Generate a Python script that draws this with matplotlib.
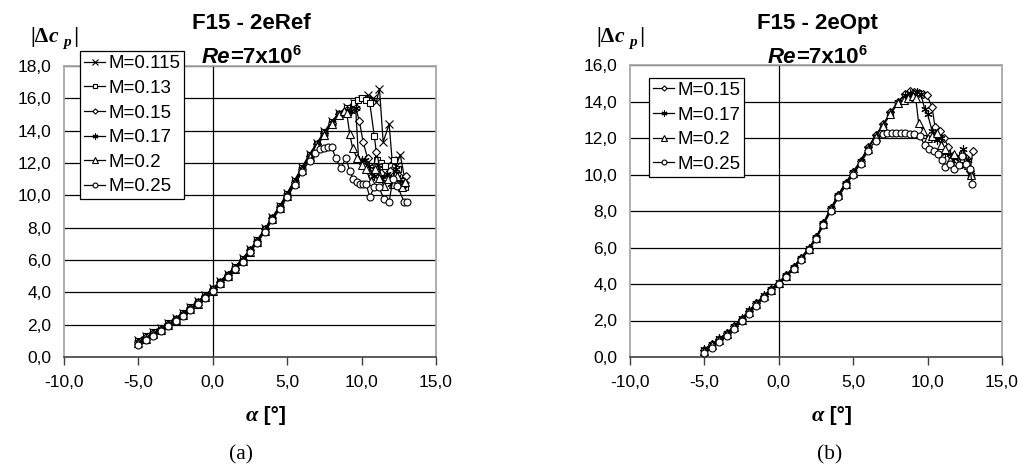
import matplotlib
matplotlib.use("Agg")
import matplotlib.pyplot as plt
from matplotlib.ticker import FuncFormatter, MultipleLocator

# ---------------- data: panel (a) F15 - 2eRef ----------------
ref_labels = ["M=0.115", "M=0.13", "M=0.15", "M=0.17", "M=0.2", "M=0.25"]

ref_a_0115 = [-5.0, -4.5, -4.0, -3.5, -3.0, -2.5, -2.0, -1.5, -1.0, -0.5, 0.0, 0.5, 1.0, 1.5, 2.0, 2.5, 3.0, 3.5,
              4.0, 4.5, 5.0, 5.5, 6.0, 6.5, 7.0, 7.5, 8.0, 8.5, 9.0, 9.5, 10.0, 10.4, 10.75, 11.0, 11.2, 11.45,
              11.85, 12.05, 12.3, 12.6, 12.9]
ref_v_0115 = [1.05, 1.3, 1.55, 1.8, 2.1, 2.4, 2.75, 3.1, 3.45, 3.85, 4.25, 4.7, 5.15, 5.6, 6.1, 6.65, 7.25, 7.95,
              8.65, 9.35, 10.15, 10.95, 11.75, 12.55, 13.25, 13.95, 14.6, 15.1, 15.45, 15.7, 15.95, 16.2, 16.0,
              15.8, 16.6, 13.3, 14.4, 12.2, 11.8, 12.5, 11.0]

ref_a_013 = [-5.0, -4.5, -4.0, -3.5, -3.0, -2.5, -2.0, -1.5, -1.0, -0.5, 0.0, 0.5, 1.0, 1.5, 2.0, 2.5, 3.0, 3.5,
             4.0, 4.5, 5.0, 5.5, 6.0, 6.5, 7.0, 7.5, 8.0, 8.5, 9.0, 9.5, 9.75, 10.0, 10.3, 10.55, 10.85, 11.05,
             11.3, 11.6, 11.9, 12.2, 12.45, 12.75, 12.95]
ref_v_013 = [1.0, 1.28, 1.52, 1.78, 2.08, 2.38, 2.72, 3.08, 3.42, 3.82, 4.22, 4.66, 5.1, 5.56, 6.05, 6.62, 7.22, 7.92,
             8.62, 9.32, 10.1, 10.9, 11.7, 12.5, 13.2, 13.9, 14.55, 15.05, 15.4, 15.7, 15.9, 16.0, 15.9, 15.7, 13.7,
             12.2, 12.0, 11.8, 11.3, 12.2, 11.6, 10.9, 10.5]

ref_a_015 = [-5.0, -4.5, -4.0, -3.5, -3.0, -2.5, -2.0, -1.5, -1.0, -0.5, 0.0, 0.5, 1.0, 1.5, 2.0, 2.5, 3.0, 3.5,
             4.0, 4.5, 5.0, 5.5, 6.0, 6.5, 7.0, 7.5, 8.0, 8.5, 9.0, 9.3, 9.6, 9.85, 10.1, 10.4, 10.7, 11.0, 11.3,
             11.6, 11.9, 12.2, 12.5, 12.8, 13.0]
ref_v_015 = [0.95, 1.22, 1.48, 1.74, 2.04, 2.34, 2.68, 3.04, 3.38, 3.78, 4.18, 4.62, 5.06, 5.52, 6.0, 6.6, 7.2, 7.9,
             8.6, 9.3, 10.05, 10.85, 11.65, 12.45, 13.15, 13.85, 14.5, 15.0, 15.3, 15.3, 15.4, 14.6, 13.3, 12.3,
             11.2, 12.7, 11.4, 11.0, 11.5, 10.8, 11.2, 10.6, 11.2]

ref_a_017 = [-5.0, -4.5, -4.0, -3.5, -3.0, -2.5, -2.0, -1.5, -1.0, -0.5, 0.0, 0.5, 1.0, 1.5, 2.0, 2.5, 3.0, 3.5,
             4.0, 4.5, 5.0, 5.5, 6.0, 6.5, 7.0, 7.5, 8.0, 8.5, 9.0, 9.3, 9.6, 9.8, 10.0, 10.2, 10.5, 10.8, 11.1,
             11.4, 11.7, 12.0, 12.3, 12.6, 12.9]
ref_v_017 = [0.9, 1.18, 1.44, 1.7, 2.0, 2.3, 2.64, 3.0, 3.34, 3.74, 4.14, 4.58, 5.02, 5.48, 5.96, 6.56, 7.16, 7.86,
             8.56, 9.26, 10.0, 10.8, 11.6, 12.4, 13.1, 13.8, 14.45, 14.95, 15.3, 15.2, 15.4, 12.2, 12.2, 12.2,
             11.8, 11.2, 11.9, 11.0, 11.3, 10.7, 11.6, 11.0, 10.7]

ref_a_02 = [-5.0, -4.5, -4.0, -3.5, -3.0, -2.5, -2.0, -1.5, -1.0, -0.5, 0.0, 0.5, 1.0, 1.5, 2.0, 2.5, 3.0, 3.5,
            4.0, 4.5, 5.0, 5.5, 6.0, 6.5, 7.0, 7.5, 8.0, 8.5, 8.8, 9.0, 9.2, 9.4, 9.7, 10.0, 10.3, 10.6, 10.9,
            11.2, 11.5, 11.8, 12.1, 12.4, 12.7, 12.95]
ref_v_02 = [0.85, 1.12, 1.4, 1.66, 1.96, 2.26, 2.6, 2.96, 3.3, 3.7, 4.1, 4.55, 5.0, 5.45, 5.92, 6.52, 7.12, 7.82,
            8.52, 9.22, 9.95, 10.75, 11.55, 12.35, 13.05, 13.75, 14.4, 14.95, 15.2, 15.1, 13.8, 12.9, 12.3, 11.9,
            11.6, 10.9, 11.6, 11.1, 10.6, 11.0, 10.7, 11.2, 10.5, 10.8]

ref_a_025 = [-5.0, -4.5, -4.0, -3.5, -3.0, -2.5, -2.0, -1.5, -1.0, -0.5, 0.0, 0.5, 1.0, 1.5, 2.0, 2.5, 3.0, 3.5,
             4.0, 4.5, 5.0, 5.5, 6.0, 6.5, 6.85, 7.2, 7.5, 7.75, 8.0, 8.25, 8.6, 8.95, 9.2, 9.45, 9.7, 9.9, 10.1,
             10.3, 10.55, 10.85, 11.15, 11.5, 11.85, 12.1, 12.4, 12.85, 13.05]
ref_v_025 = [0.75, 1.05, 1.32, 1.6, 1.9, 2.2, 2.55, 2.92, 3.26, 3.66, 4.06, 4.5, 4.96, 5.42, 5.9, 6.48, 7.08, 7.76,
             8.46, 9.16, 9.88, 10.66, 11.45, 12.15, 12.6, 12.85, 12.95, 13.0, 13.0, 12.3, 11.7, 12.3, 11.5, 11.0,
             10.8, 10.7, 10.7, 10.7, 9.9, 10.5, 10.5, 9.8, 9.6, 11.0, 10.6, 9.6, 9.6]

# ---------------- data: panel (b) F15 - 2eOpt ----------------
opt_labels = ["M=0.15", "M=0.17", "M=0.2", "M=0.25"]

opt_a_015 = [-5.0, -4.5, -4.0, -3.5, -3.0, -2.5, -2.0, -1.5, -1.0, -0.5, 0.0, 0.5, 1.0, 1.5, 2.0, 2.5, 3.0, 3.5,
             4.0, 4.5, 5.0, 5.5, 6.0, 6.5, 7.0, 7.5, 8.0, 8.5, 8.8, 9.1, 9.4, 9.7, 9.95, 10.3, 10.5, 10.8, 11.1,
             11.4, 11.7, 12.0, 12.3, 12.6, 12.85, 13.05]
opt_v_015 = [0.4, 0.7, 1.0, 1.3, 1.68, 2.1, 2.52, 2.96, 3.36, 3.72, 4.08, 4.48, 4.94, 5.44, 5.94, 6.55, 7.35, 8.15,
             8.9, 9.55, 10.15, 10.75, 11.5, 12.15, 12.75, 13.4, 14.0, 14.4, 14.55, 14.5, 14.45, 14.4, 14.35, 13.7,
             12.6, 12.4, 12.0, 11.5, 10.9, 10.8, 10.6, 10.9, 10.2, 11.3]

opt_a_017 = [-5.0, -4.5, -4.0, -3.5, -3.0, -2.5, -2.0, -1.5, -1.0, -0.5, 0.0, 0.5, 1.0, 1.5, 2.0, 2.5, 3.0, 3.5,
             4.0, 4.5, 5.0, 5.5, 6.0, 6.5, 7.0, 7.5, 8.0, 8.5, 8.8, 9.05, 9.3, 9.55, 9.8, 10.0, 10.3, 10.6, 10.9,
             11.2, 11.5, 11.8, 12.1, 12.4, 12.7, 12.95]
opt_v_017 = [0.45, 0.72, 1.02, 1.32, 1.7, 2.12, 2.55, 2.98, 3.38, 3.74, 4.1, 4.5, 4.95, 5.45, 5.95, 6.55, 7.35, 8.15,
             8.9, 9.55, 10.15, 10.75, 11.45, 12.1, 12.7, 13.35, 13.95, 14.35, 14.45, 14.4, 14.5, 14.4, 13.6, 13.3,
             12.4, 11.9, 12.0, 11.2, 11.1, 10.9, 11.0, 11.4, 10.8, 10.0]

opt_a_02 = [-5.0, -4.5, -4.0, -3.5, -3.0, -2.5, -2.0, -1.5, -1.0, -0.5, 0.0, 0.5, 1.0, 1.5, 2.0, 2.5, 3.0, 3.5,
            4.0, 4.5, 5.0, 5.5, 6.0, 6.5, 7.0, 7.5, 8.0, 8.4, 8.7, 9.0, 9.2, 9.4, 9.7, 10.0, 10.3, 10.6, 10.9,
            11.2, 11.5, 11.8, 12.1, 12.4, 12.7, 12.9]
opt_v_02 = [0.35, 0.65, 0.95, 1.25, 1.62, 2.05, 2.48, 2.92, 3.32, 3.68, 4.04, 4.44, 4.9, 5.4, 5.9, 6.5, 7.3, 8.1,
            8.85, 9.5, 10.1, 10.7, 11.42, 12.05, 12.65, 13.3, 13.9, 14.1, 14.2, 14.3, 14.2, 12.8, 12.4, 12.0,
            12.1, 12.3, 11.6, 11.4, 10.8, 11.1, 10.7, 10.9, 10.5, 10.0]

opt_a_025 = [-5.0, -4.5, -4.0, -3.5, -3.0, -2.5, -2.0, -1.5, -1.0, -0.5, 0.0, 0.5, 1.0, 1.5, 2.0, 2.5, 3.0, 3.5,
             4.0, 4.5, 5.0, 5.5, 6.0, 6.5, 7.0, 7.3, 7.6, 7.9, 8.2, 8.5, 8.8, 9.1, 9.5, 9.8, 10.1, 10.4, 10.7,
             11.0, 11.2, 11.5, 11.8, 12.1, 12.3, 12.6, 12.85, 13.0]
opt_v_025 = [0.2, 0.5, 0.82, 1.14, 1.52, 1.95, 2.38, 2.82, 3.22, 3.6, 3.98, 4.38, 4.84, 5.34, 5.84, 6.44, 7.22,
             8.0, 8.75, 9.4, 10.0, 10.6, 11.3, 11.85, 12.2, 12.3, 12.3, 12.3, 12.25, 12.25, 12.2, 12.2, 12.1, 11.6,
             11.4, 11.3, 11.1, 10.8, 10.4, 10.6, 10.3, 10.5, 11.0, 10.6, 10.3, 9.5]

ref_series = [(ref_a_0115, ref_v_0115), (ref_a_013, ref_v_013), (ref_a_015, ref_v_015),
              (ref_a_017, ref_v_017), (ref_a_02, ref_v_02), (ref_a_025, ref_v_025)]
opt_series = [(opt_a_015, opt_v_015), (opt_a_017, opt_v_017), (opt_a_02, opt_v_02), (opt_a_025, opt_v_025)]

marker_for = {"M=0.115": ("x", 5.5), "M=0.13": ("s", 4.6), "M=0.15": ("D", 3.8),
              "M=0.17": ((6, 2, 0), 6.0), "M=0.2": ("^", 5.2), "M=0.25": ("o", 5.0)}

# ---------------- figure ----------------
W, H = 1022, 465
SANS = "Liberation Sans"
SERIF = "Liberation Serif"
plt.rcParams["font.family"] = [SANS, "DejaVu Sans"]

fig = plt.figure(figsize=(W / 100, H / 100), dpi=100)
fig.patch.set_facecolor("white")


def px_axes(left, right, top, bottom):
    return fig.add_axes([left / W, 1 - bottom / H, (right - left) / W, (bottom - top) / H])


def comma_fmt(v, pos):
    return f"{v:.1f}".replace(".", ",")


def style_axes(ax, ymax):
    ax.set_xlim(-10, 15)
    ax.set_ylim(0, ymax)
    ax.xaxis.set_major_locator(MultipleLocator(5))
    ax.yaxis.set_major_locator(MultipleLocator(2))
    ax.xaxis.set_major_formatter(FuncFormatter(comma_fmt))
    ax.yaxis.set_major_formatter(FuncFormatter(comma_fmt))
    for yv in range(2, int(ymax) + 1, 2):
        ax.axhline(yv, color="black", lw=0.9, zorder=1)
    ax.axvline(0, color="black", lw=0.9, zorder=1)
    for s in ("left", "top", "right"):
        ax.spines[s].set_color("#a8a8a8")
        ax.spines[s].set_linewidth(1.3)
    ax.spines["bottom"].set_color("#404040")
    ax.spines["bottom"].set_linewidth(1.2)
    ax.tick_params(axis="x", direction="out", length=6, width=1, color="#404040",
                   labelsize=12.5, pad=7)
    ax.tick_params(axis="y", length=0, labelsize=12.5, pad=9)


def draw_panel(ax, labels, series):
    for lab, (a, v) in zip(labels, series):
        m, ms = marker_for[lab]
        ax.plot(a, v, color="black", lw=0.9, marker=m, ms=ms, mfc="white", mec="black",
                mew=0.8, label=lab, zorder=3)


def rich(x, y_base, pieces):
    """pieces: (text, fontdict, dy_px); centered at x, baseline at y_base (px from top)."""
    objs = []
    for s, kw, dy in pieces:
        objs.append((fig.text(0, 0, s, ha="left", va="baseline", **kw), dy))
    fig.canvas.draw()
    r = fig.canvas.get_renderer()
    widths = [t.get_window_extent(r).width for t, _ in objs]
    total = sum(widths)
    cur = x - total / 2
    for (t, dy), w in zip(objs, widths):
        t.set_position((cur / W, (H - y_base + dy) / H))
        cur += w


ax1 = px_axes(64, 436, 66, 357)
ax2 = px_axes(630, 1002, 65, 357)
style_axes(ax1, 18)
style_axes(ax2, 16)
draw_panel(ax1, ref_labels, ref_series)
draw_panel(ax2, opt_labels, opt_series)

for ax, anchor in ((ax1, (0.043, 1.05)), (ax2, (0.051, 0.955))):
    leg = ax.legend(loc="upper left", bbox_to_anchor=anchor, borderaxespad=0, fontsize=13.5,
                    handlelength=1.15, handletextpad=0.15, labelspacing=0.4, borderpad=0.2,
                    fancybox=False, framealpha=1, edgecolor="black", markerscale=0.7)
    leg.get_frame().set_linewidth(0.9)
    leg.set_zorder(5)

bold = dict(fontfamily=SANS, fontweight="bold", fontsize=16)
bold_it = dict(fontfamily=SANS, fontweight="bold", fontstyle="italic", fontsize=16)
sup = dict(fontfamily=SANS, fontweight="bold", fontsize=10.5)
ser_b = dict(fontfamily=SERIF, fontweight="bold", fontsize=15.5)
ser_bi = dict(fontfamily=SERIF, fontweight="bold", fontstyle="italic", fontsize=15.5)
ser_sub = dict(fontfamily=SERIF, fontweight="bold", fontstyle="italic", fontsize=11)

for cx, name, ylx, xlx, sub in ((251, "F15 - 2eRef", 55, 266, "(a)"),
                                (817, "F15 - 2eOpt", 621, 832, "(b)")):
    rich(cx, 29, [(name, bold, 0)])
    rich(cx, 63, [("Re", bold_it, 0), ("=7x10", bold, 0), ("6", sup, 8)])
    rich(ylx, 42, [("|Δ", ser_b, 0), ("c", ser_bi, 0), ("\u2009", ser_b, 0), ("p", ser_sub, -4),
                   ("\u2009|", ser_b, 0)])
    rich(xlx, 421, [("α", dict(fontfamily=SERIF, fontweight="bold", fontstyle="italic", fontsize=16), 0),
                    (" [°]", dict(fontfamily=SANS, fontweight="bold", fontsize=15), 0)])
    rich(cx - 10 if sub == "(a)" else cx + 13, 459,
         [(sub, dict(fontfamily=SERIF, fontsize=15.5), 0)])

fig.savefig("out.png", dpi=100, facecolor="white")
